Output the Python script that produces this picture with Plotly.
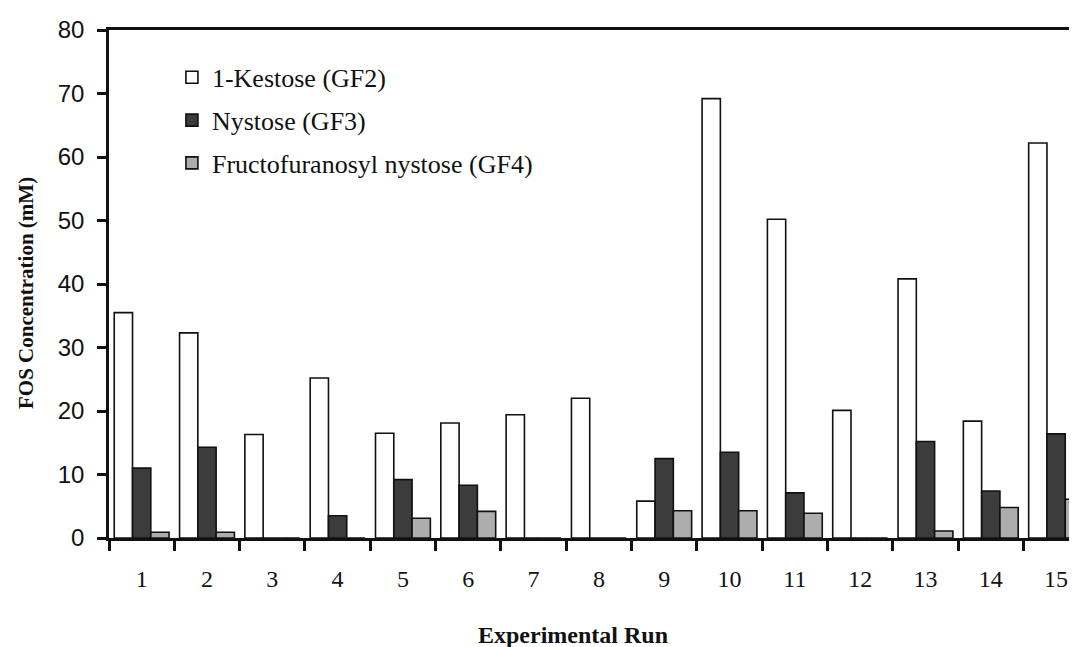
import plotly.graph_objects as go

runs = [str(i) for i in range(1, 16)]
gf2 = [35.5, 32.3, 16.3, 25.2, 16.5, 18.1, 19.4, 22.0, 5.8, 69.2, 50.2, 20.1, 40.8, 18.4, 62.2]
gf3 = [11.0, 14.3, 0, 3.5, 9.2, 8.3, 0, 0, 12.5, 13.5, 7.1, 0, 15.2, 7.4, 16.4]
gf4 = [0.9, 0.9, 0, 0, 3.1, 4.2, 0, 0, 4.3, 4.3, 3.9, 0, 1.1, 4.8, 6.1]
names = ["1-Kestose (GF2)", "Nystose (GF3)", "Fructofuranosyl nystose (GF4)"]
colors = ["#ffffff", "#3c3c3c", "#adadad"]

serif = "Liberation Serif, Times New Roman, serif"
sans = "Liberation Sans, Arial, sans-serif"
ink = "#111111"

fig = go.Figure()
for i, (vals, nm, col) in enumerate(zip([gf2, gf3, gf4], names, colors)):
    fig.add_trace(go.Bar(
        x=runs, y=vals, name=nm, legendgroup=str(i),
        marker=dict(color=col, line=dict(color=ink, width=1.6)),
    ))

fig.update_layout(
    width=1069, height=639,
    margin=dict(l=101, r=0, t=22, b=109),
    paper_bgcolor="white", plot_bgcolor="white",
    barmode="group", bargap=0.16, bargroupgap=0,
    showlegend=True,
    legend=dict(x=0.065, y=0.953, xanchor="left", yanchor="top",
                font=dict(family=serif, size=26, color=ink),
                bgcolor="rgba(0,0,0,0)", tracegroupgap=6,
                itemwidth=30),
    xaxis=dict(
        type="category", range=[-0.5, 14.32],
        showline=True, linecolor=ink, linewidth=2.5, mirror=True,
        ticks="outside", tickson="boundaries", ticklen=10, tickwidth=2.5, tickcolor=ink,
        tickfont=dict(family=serif, size=24, color=ink),
        ticklabelstandoff=17,
        showgrid=False, zeroline=False,
    ),
    yaxis=dict(
        range=[0, 80], dtick=10,
        showline=True, linecolor=ink, linewidth=2.5,
        ticks="outside", ticklen=9, tickwidth=2.5, tickcolor=ink,
        tickfont=dict(family=sans, size=24, color=ink),
        ticklabelstandoff=8,
        showgrid=False, zeroline=False,
    ),
    annotations=[
        dict(text="<b>Experimental Run</b>", xref="paper", yref="paper",
             x=(573 - 109) / 968, y=-(635 - 538) / 508, xanchor="center", yanchor="middle",
             showarrow=False, font=dict(family=serif, size=24, color=ink)),
        dict(text="<b>FOS Concentration (mM)</b>", xref="paper", yref="paper",
             x=(26 - 109) / 968, y=(538 - 293) / 508, xanchor="center", yanchor="middle",
             textangle=-90, showarrow=False, font=dict(family=serif, size=21, color=ink)),
    ],
)

fig.write_html("out.html")
